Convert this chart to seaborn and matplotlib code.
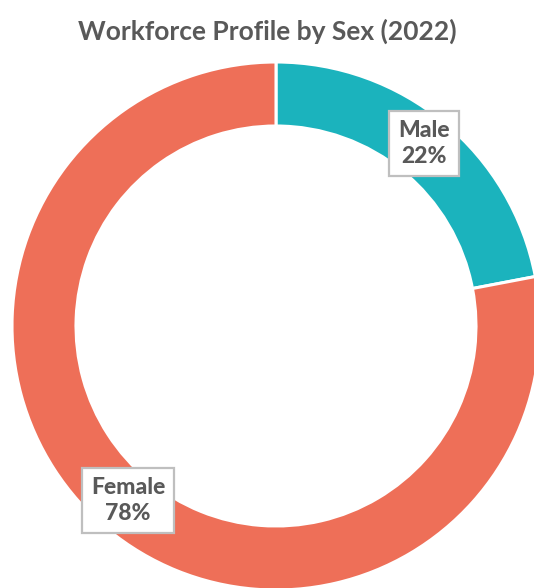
import matplotlib
matplotlib.use("Agg")
import matplotlib.pyplot as plt
import numpy as np
import seaborn as sns

labels = ["Male", "Female"]
shares = [22, 78]
colors = ["#1BB3BD", "#EE6F58"]

sns.set_theme(style="white")
plt.rcParams["font.family"] = ["Lato", "DejaVu Sans"]

fig = plt.figure(figsize=(5.34, 5.88), dpi=100)
ax = fig.add_axes([0, 0, 1, 1])

cx, cy = 276, 588 - 326
radius = 264
ring = 64

wedges, _ = ax.pie(shares, colors=colors, startangle=90, counterclock=False,
                   center=(cx, cy), radius=radius,
                   wedgeprops=dict(width=ring, edgecolor="white", linewidth=2.2))

ax.set_xlim(0, 534)
ax.set_ylim(0, 588)
ax.set_aspect("equal")
ax.axis("off")

# labels sit on the middle of the ring, at each wedge's mid angle
r_lab = radius - ring / 2
for w, lab, val in zip(wedges, labels, shares):
    ang = np.deg2rad((w.theta1 + w.theta2) / 2)
    x = cx + r_lab * np.cos(ang)
    y = cy + r_lab * np.sin(ang)
    ax.text(x, y + 4, f"{lab}\n{val}%", ha="center", va="center", fontsize=16.5,
            fontweight=900, color="#595959", linespacing=1.3,
            bbox=dict(boxstyle="square,pad=0.4", fc="white", ec="#BFBFBF", lw=1.6))

fig.text(0.5, 1 - 31 / 588, "Workforce Profile by Sex (2022)", ha="center", va="center",
         fontsize=19, fontweight="bold", color="#595959")

fig.savefig("out.png", dpi=100)
